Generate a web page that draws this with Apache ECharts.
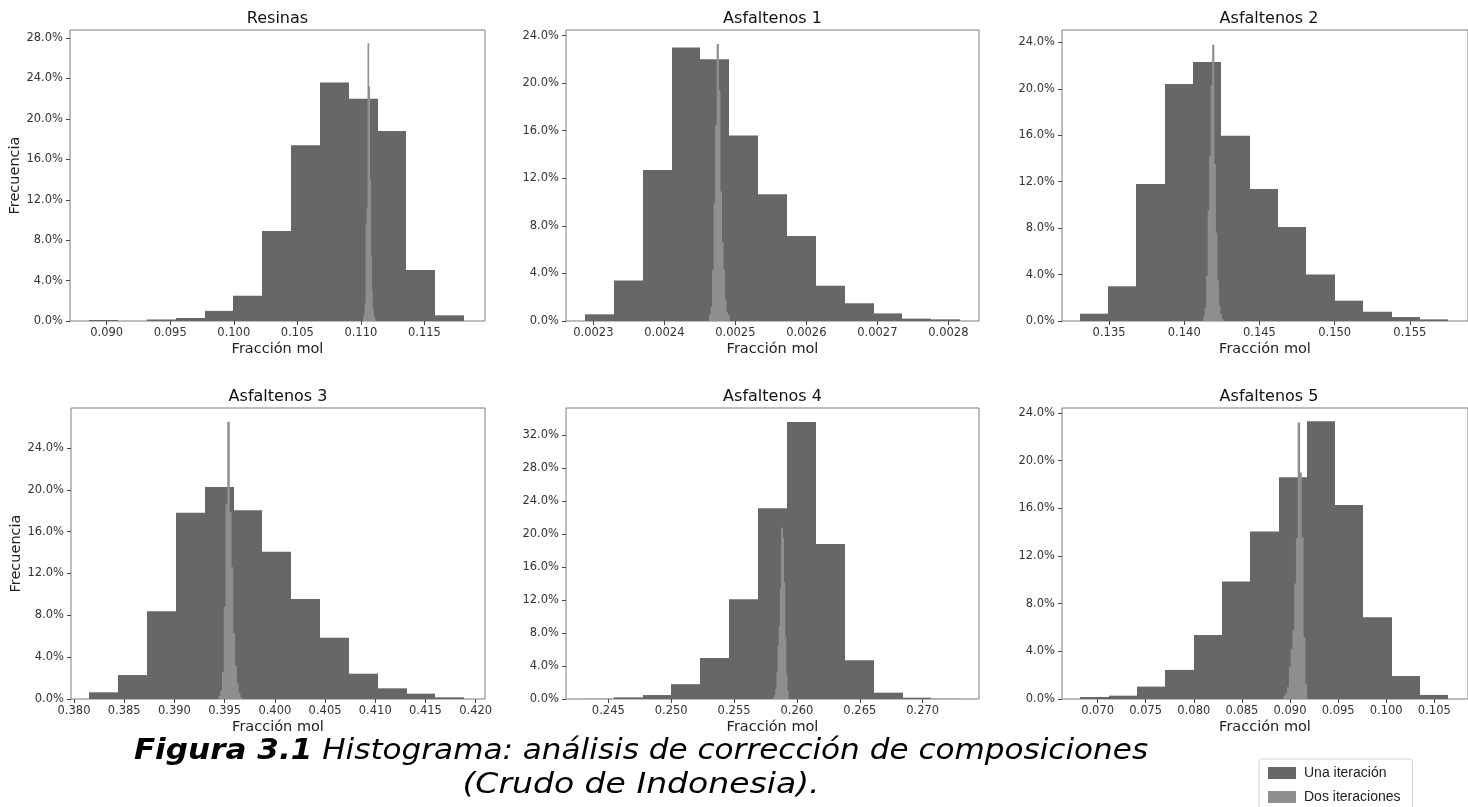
<!DOCTYPE html>
<html>
<head>
<meta charset="utf-8">
<script src="https://cdn.jsdelivr.net/npm/echarts@6/dist/echarts.min.js"></script>
<style>
html,body{margin:0;padding:0;background:#fff;}
#chart{width:1468px;height:807px;}
</style>
</head>
<body>
<div id="chart"></div>
<script>
// ---------------- DATA ----------------
const panelTitles = ['Resinas', 'Asfaltenos 1', 'Asfaltenos 2', 'Asfaltenos 3', 'Asfaltenos 4', 'Asfaltenos 5'];
const seriesNames = ['Una iteración', 'Dos iteraciones'];
const xAxisName = 'Fracción mol';
const yAxisName = 'Frecuencia';
const captionBold = 'Figura 3.1';
const captionLine1 = 'Histograma: análisis de corrección de composiciones';
const captionLine2 = '(Crudo de Indonesia).';

// Resinas
const resinasUnaRange = [0.08863, 0.11812];
const resinasUnaFreq = [0.1, 0, 0.15, 0.3, 1.0, 2.5, 8.9, 17.4, 23.6, 22.0, 18.8, 5.05, 0.56];
const resinasDosRange = [0.11019, 0.11113];
const resinasDosFreq = [0.4, 0.8, 1.8, 9.7, 11.2, 27.5, 23.2, 14.0, 6.5, 3.0, 1.2, 0.5, 0.2];
const resinasXTicks = [0.090, 0.095, 0.100, 0.105, 0.110, 0.115];
const resinasYTicks = [0, 4, 8, 12, 16, 20, 24, 28];

// Asfaltenos 1
const asf1UnaRange = [0.0022883, 0.0028165];
const asf1UnaFreq = [0.56, 3.4, 12.7, 23.0, 22.0, 15.6, 10.65, 7.15, 2.97, 1.49, 0.64, 0.2, 0.14];
const asf1DosRange = [0.0024634, 0.0024915];
const asf1DosFreq = [0.5, 1.2, 4.3, 9.9, 16.5, 23.3, 19.4, 10.9, 6.6, 4.3, 1.8, 0.8, 0.5];
const asf1XTicks = [0.0023, 0.0024, 0.0025, 0.0026, 0.0027, 0.0028];
const asf1YTicks = [0, 4, 8, 12, 16, 20, 24];

// Asfaltenos 2
const asf2UnaRange = [0.13304, 0.15756];
const asf2UnaFreq = [0.63, 2.99, 11.8, 20.4, 22.3, 15.96, 11.37, 8.1, 4.0, 1.75, 0.8, 0.34, 0.14];
const asf2DosRange = [0.14128, 0.14258];
const asf2DosFreq = [0.4, 1.1, 3.9, 9.5, 14.2, 20.3, 23.8, 13.5, 7.6, 3.5, 1.4, 0.6, 0.2];
const asf2XTicks = [0.135, 0.140, 0.145, 0.150, 0.155];
const asf2YTicks = [0, 4, 8, 12, 16, 20, 24];

// Asfaltenos 3
const asf3UnaRange = [0.381524, 0.418865];
const asf3UnaFreq = [0.64, 2.29, 8.4, 17.8, 20.27, 18.05, 14.07, 9.55, 5.86, 2.42, 1.02, 0.51, 0.16];
const asf3DosRange = [0.394419, 0.396709];
const asf3DosFreq = [0.3, 0.8, 2.6, 8.8, 18.7, 26.5, 17.9, 12.6, 6.3, 3.2, 1.5, 0.6, 0.2];
const asf3XTicks = [0.380, 0.385, 0.390, 0.395, 0.400, 0.405, 0.410, 0.415, 0.420];
const asf3YTicks = [0, 4, 8, 12, 16, 20, 24];

// Asfaltenos 4
const asf4UnaRange = [0.243129, 0.272987];
const asf4UnaFreq = [0.02, 0.2, 0.48, 1.8, 4.97, 12.1, 23.15, 33.6, 18.8, 4.7, 0.77, 0.16, 0.02];
const asf4DosRange = [0.25812, 0.25931];
const asf4DosFreq = [0.2, 0.5, 1.3, 3.2, 6.5, 8.8, 13.4, 20.8, 19.6, 14.2, 7.6, 2.9, 1.0];
const asf4XTicks = [0.245, 0.250, 0.255, 0.260, 0.265, 0.270];
const asf4YTicks = [0, 4, 8, 12, 16, 20, 24, 28, 32];

// Asfaltenos 5
const asf5UnaRange = [0.068206, 0.10646];
const asf5UnaFreq = [0.17, 0.28, 1.04, 2.44, 5.38, 9.86, 14.06, 18.6, 23.3, 16.27, 6.86, 1.93, 0.34];
const asf5DosRange = [0.089366, 0.091746];
const asf5DosFreq = [0.3, 0.5, 1.0, 2.7, 4.2, 5.8, 9.7, 13.5, 23.2, 19.0, 13.6, 5.2, 1.3];
const asf5XTicks = [0.070, 0.075, 0.080, 0.085, 0.090, 0.095, 0.100, 0.105];
const asf5YTicks = [0, 4, 8, 12, 16, 20, 24];

// ---------------- LAYOUT ----------------
const COLOR_UNA = '#676767';
const COLOR_DOS = '#8f8f8f';
const FONT = '"DejaVu Sans", sans-serif';

const panels = [
  { una: [resinasUnaRange, resinasUnaFreq], dos: [resinasDosRange, resinasDosFreq], xTicks: resinasXTicks, yTicks: resinasYTicks, digits: 3,
    xMin: 0.087112, xMax: 0.119769, yMax: 28.8, grid: { left: 70, top: 30, width: 415, height: 291 }, yName: true },
  { una: [asf1UnaRange, asf1UnaFreq], dos: [asf1DosRange, asf1DosFreq], xTicks: asf1XTicks, yTicks: asf1YTicks, digits: 4,
    xMin: 0.0022615, xMax: 0.0028432, yMax: 24.47, grid: { left: 566, top: 30, width: 413, height: 291 }, yName: false },
  { una: [asf2UnaRange, asf2UnaFreq], dos: [asf2DosRange, asf2DosFreq], xTicks: asf2XTicks, yTicks: asf2YTicks, digits: 3,
    xMin: 0.13187, xMax: 0.15887, yMax: 25.06, grid: { left: 1062, top: 30, width: 414, height: 291 }, yName: false },
  { una: [asf3UnaRange, asf3UnaFreq], dos: [asf3DosRange, asf3DosFreq], xTicks: asf3XTicks, yTicks: asf3YTicks, digits: 3,
    xMin: 0.379701, xMax: 0.420928, yMax: 27.82, grid: { left: 71, top: 408, width: 414, height: 291 }, yName: true },
  { una: [asf4UnaRange, asf4UnaFreq], dos: [asf4DosRange, asf4DosFreq], xTicks: asf4XTicks, yTicks: asf4YTicks, digits: 3,
    xMin: 0.241636, xMax: 0.274476, yMax: 35.3, grid: { left: 566, top: 408, width: 413, height: 291 }, yName: false },
  { una: [asf5UnaRange, asf5UnaFreq], dos: [asf5DosRange, asf5DosFreq], xTicks: asf5XTicks, yTicks: asf5YTicks, digits: 3,
    xMin: 0.0663, xMax: 0.1085, yMax: 24.42, grid: { left: 1062, top: 408, width: 414, height: 291 }, yName: false }
];

function toBins(range, freq) {
  const w = (range[1] - range[0]) / freq.length;
  return freq.map((f, i) => [range[0] + i * w, range[0] + (i + 1) * w, f]);
}

function makeRender(color, snap) {
  return function (params, api) {
    const a = api.coord([api.value(0), api.value(2)]);
    const b = api.coord([api.value(1), 0]);
    let x0 = a[0], x1 = b[0];
    if (snap) { x0 = Math.round(x0); x1 = Math.round(x1); }
    else { x0 -= 0.35; x1 += 0.35; }
    return {
      type: 'rect',
      shape: { x: x0, y: a[1], width: x1 - x0, height: b[1] - a[1] },
      style: { fill: color }
    };
  };
}

const grids = [], xAxes = [], yAxes = [], series = [], graphics = [];

panels.forEach((p, i) => {
  grids.push(Object.assign({ show: true, borderColor: '#7d7d7d', borderWidth: 1, backgroundColor: 'transparent' }, p.grid));
  xAxes.push({
    type: 'value', gridIndex: i, min: p.xMin, max: p.xMax,
    axisLine: { show: false },
    axisTick: { show: true, length: 4, lineStyle: { color: '#444' }, customValues: p.xTicks },
    axisLabel: { customValues: p.xTicks, formatter: v => v.toFixed(p.digits), fontSize: 11.5, color: '#333', margin: 6, fontFamily: FONT },
    splitLine: { show: false },
    name: xAxisName, nameLocation: 'middle', nameGap: 21,
    nameTextStyle: { fontSize: 14.5, color: '#222', fontFamily: FONT }
  });
  yAxes.push({
    type: 'value', gridIndex: i, min: 0, max: p.yMax,
    axisLine: { show: false },
    axisTick: { show: true, length: 4, lineStyle: { color: '#444' }, customValues: p.yTicks },
    axisLabel: { customValues: p.yTicks, formatter: v => v.toFixed(1) + '%', fontSize: 11.5, color: '#333', margin: 7, fontFamily: FONT },
    splitLine: { show: false },
    name: p.yName ? yAxisName : '', nameLocation: 'middle', nameGap: 43,
    nameTextStyle: { fontSize: 14.5, color: '#222', fontFamily: FONT }
  });
  series.push({
    type: 'custom', name: seriesNames[0], xAxisIndex: i, yAxisIndex: i,
    data: toBins(p.una[0], p.una[1]), encode: { x: [0, 1], y: 2 },
    itemStyle: { color: COLOR_UNA }, renderItem: makeRender(COLOR_UNA, true), clip: true, z: 2
  });
  series.push({
    type: 'custom', name: seriesNames[1], xAxisIndex: i, yAxisIndex: i,
    data: toBins(p.dos[0], p.dos[1]), encode: { x: [0, 1], y: 2 },
    itemStyle: { color: COLOR_DOS }, renderItem: makeRender(COLOR_DOS, false), clip: true, z: 3
  });
  graphics.push({
    type: 'text', silent: true,
    style: {
      x: p.grid.left + p.grid.width / 2, y: p.grid.top - 11,
      text: panelTitles[i], fill: '#111',
      font: '16px ' + FONT,
      align: 'center', verticalAlign: 'middle', textAlign: 'center', textVerticalAlign: 'middle'
    }
  });
});

graphics.push({
  type: 'text', silent: true,
  x: 641, y: 752, scaleX: 1.11,
  style: {
    x: 0, y: 0,
    text: '{b|' + captionBold + '} {i|' + captionLine1 + '}',
    fill: '#000', fontFamily: FONT, fontSize: 28, fontStyle: 'italic',
    rich: {
      b: { fontFamily: FONT, fontSize: 28, fontStyle: 'italic', fontWeight: 'bold', fill: '#000' },
      i: { fontFamily: FONT, fontSize: 28, fontStyle: 'italic', fill: '#000' }
    },
    align: 'center', verticalAlign: 'middle', textAlign: 'center', textVerticalAlign: 'middle'
  }
});
graphics.push({
  type: 'text', silent: true,
  x: 641, y: 786, scaleX: 1.18,
  style: {
    x: 0, y: 0,
    text: captionLine2,
    fill: '#000', font: 'italic 28px ' + FONT,
    align: 'center', verticalAlign: 'middle', textAlign: 'center', textVerticalAlign: 'middle'
  }
});

const chart = echarts.init(document.getElementById('chart'), null, { renderer: 'canvas' });
chart.setOption({
  animation: false,
  backgroundColor: '#ffffff',
  grid: grids,
  xAxis: xAxes,
  yAxis: yAxes,
  series: series,
  graphic: graphics,
  legend: {
    data: seriesNames, orient: 'vertical', left: 1259, top: 759, height: 120,
    itemWidth: 28, itemHeight: 12, itemGap: 8, icon: 'rect',
    backgroundColor: '#ffffff', borderColor: '#d4d4d4', borderWidth: 1, borderRadius: 3,
    padding: [6, 12, 6, 9], selectedMode: false,
    textStyle: { fontSize: 14, color: '#222', padding: [0, 0, 0, 3], lineHeight: 16,
      fontFamily: '"Liberation Sans Narrow", "Liberation Sans", sans-serif' }
  }
});
</script>
</body>
</html>
